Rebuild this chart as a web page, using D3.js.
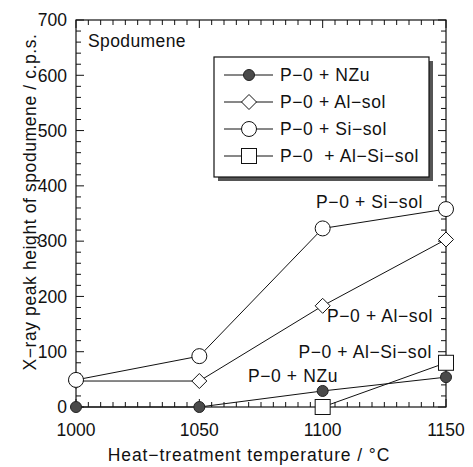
<!DOCTYPE html>
<html>
<head>
<meta charset="utf-8">
<script src="https://cdn.jsdelivr.net/npm/d3@7"></script>
<style>
  html, body { margin: 0; padding: 0; background: #fff; }
  svg text { font-family: "Liberation Sans", Arial, sans-serif; fill: #111; white-space: pre; }
</style>
</head>
<body>
<script>
// data
const temps = [1000, 1050, 1100, 1150];
const nzu = [0, 0, 29, 54];
const alSol = [47, 47, 183, 303];
const siSol = [49, 92, 323, 358];
const alSiTemps = [1100, 1150];
const alSiSol = [0, 80];

const legendLabels = ['P\u22120 + NZu', 'P\u22120 + Al\u2212sol', 'P\u22120 + Si\u2212sol', 'P\u22120  + Al\u2212Si\u2212sol'];
const xTicks = [1000, 1050, 1100, 1150];
const yTicks = [0, 100, 200, 300, 400, 500, 600, 700];

const W = 473, H = 467;
const m = {left: 76, right: 27, top: 20, bottom: 60};
const iw = W - m.left - m.right, ih = H - m.top - m.bottom;

const svg = d3.select('body').append('svg')
    .attr('width', W).attr('height', H);

const x = d3.scaleLinear().domain([1000, 1150]).range([m.left, m.left + iw]);
const y = d3.scaleLinear().domain([0, 700]).range([m.top + ih, m.top]);

// frame
svg.append('rect')
   .attr('x', m.left).attr('y', m.top)
   .attr('width', iw).attr('height', ih)
   .attr('fill', 'none').attr('stroke', '#111').attr('stroke-width', 1.2);

// ticks (all pointing inward)
const xMinor = d3.range(1000, 1151, 5);
const yMinor = d3.range(0, 701, 20);
const tk = svg.append('g').attr('stroke', '#111').attr('stroke-width', 1);
xMinor.forEach(v => {
    const len = v % 50 === 0 ? 8 : 5;
    tk.append('line').attr('x1', x(v)).attr('x2', x(v)).attr('y1', y(0)).attr('y2', y(0) - len);
    tk.append('line').attr('x1', x(v)).attr('x2', x(v)).attr('y1', y(700)).attr('y2', y(700) + len);
});
yMinor.forEach(v => {
    const len = v % 100 === 0 ? 8 : 5;
    tk.append('line').attr('y1', y(v)).attr('y2', y(v)).attr('x1', x(1000)).attr('x2', x(1000) + len);
    tk.append('line').attr('y1', y(v)).attr('y2', y(v)).attr('x1', x(1150)).attr('x2', x(1150) - len);
});

// tick labels
svg.append('g').selectAll('text').data(xTicks).enter().append('text')
   .attr('x', d => x(d)).attr('y', 436)
   .attr('text-anchor', 'middle').attr('font-size', 17.5)
   .text(d => d);
svg.append('g').selectAll('text').data(yTicks).enter().append('text')
   .attr('x', m.left - 9).attr('y', d => y(d)).attr('dy', '0.36em')
   .attr('text-anchor', 'end').attr('font-size', 17.5)
   .text(d => d);

// axis titles
svg.append('text')
   .attr('x', 249).attr('y', 461)
   .attr('text-anchor', 'middle').attr('font-size', 17.5)
   .attr('letter-spacing', 0.9)
   .text('Heat\u2212treatment temperature / \u00b0C');
svg.append('text')
   .attr('transform', 'translate(36,202) rotate(-90)')
   .attr('text-anchor', 'middle').attr('font-size', 17.5)
   .attr('letter-spacing', 0.6)
   .text('X\u2212ray peak height of spodumene / c.p.s.');

svg.append('text')
   .attr('x', 88).attr('y', 47).attr('font-size', 17.5)
   .attr('letter-spacing', 0.4)
   .text('Spodumene');

// lines
const line = d3.line().x(d => x(d[0])).y(d => y(d[1]));
const series = [
    {pts: d3.zip(temps, alSol)},
    {pts: d3.zip(temps, siSol)},
    {pts: d3.zip(alSiTemps, alSiSol)},
    {pts: d3.zip(temps, nzu)}
];
svg.append('g').selectAll('path').data(series).enter().append('path')
   .attr('d', d => line(d.pts))
   .attr('fill', 'none').attr('stroke', '#111').attr('stroke-width', 1);

// marker drawers
function diamond(g, cx, cy) {
    const s = 7.5;
    g.append('path')
     .attr('d', `M${cx},${cy - s}L${cx + s},${cy}L${cx},${cy + s}L${cx - s},${cy}Z`)
     .attr('fill', '#fff').attr('stroke', '#111').attr('stroke-width', 1);
}
function openCircle(g, cx, cy) {
    g.append('circle').attr('cx', cx).attr('cy', cy).attr('r', 7.5)
     .attr('fill', '#fff').attr('stroke', '#111').attr('stroke-width', 1);
}
function square(g, cx, cy) {
    g.append('rect').attr('x', cx - 7.5).attr('y', cy - 7.5).attr('width', 15).attr('height', 15)
     .attr('fill', '#fff').attr('stroke', '#111').attr('stroke-width', 1);
}
function dot(g, cx, cy) {
    g.append('circle').attr('cx', cx).attr('cy', cy).attr('r', 5.5)
     .attr('fill', '#4a4a4a').attr('stroke', '#222').attr('stroke-width', 1);
}

const mk = svg.append('g');
temps.forEach((t, i) => diamond(mk, x(t), y(alSol[i])));
temps.forEach((t, i) => openCircle(mk, x(t), y(siSol[i])));
alSiTemps.forEach((t, i) => square(mk, x(t), y(alSiSol[i])));
temps.forEach((t, i) => dot(mk, x(t), y(nzu[i])));

// in-plot labels
const notes = [
    {text: 'P\u22120 + Si\u2212sol', x: 423, y: 208},
    {text: 'P\u22120 + Al\u2212sol', x: 433, y: 322},
    {text: 'P\u22120 + Al\u2212Si\u2212sol', x: 432, y: 358},
    {text: 'P\u22120 + NZu', x: 338, y: 382}
];
svg.append('g').selectAll('text').data(notes).enter().append('text')
   .attr('x', d => d.x).attr('y', d => d.y)
   .attr('text-anchor', 'end').attr('font-size', 17.5)
   .attr('letter-spacing', 0.6)
   .text(d => d.text);

// legend
const lg = svg.append('g').attr('transform', 'translate(214,57)');
lg.append('rect').attr('x', 4).attr('y', 4).attr('width', 215).attr('height', 120).attr('fill', '#555');
lg.append('rect').attr('width', 215).attr('height', 120)
  .attr('fill', '#fff').attr('stroke', '#111').attr('stroke-width', 1.2);
const drawers = [dot, diamond, openCircle, square];
legendLabels.forEach((lab, i) => {
    const ry = 18 + i * 27;
    lg.append('line').attr('x1', 10).attr('x2', 59).attr('y1', ry).attr('y2', ry)
      .attr('stroke', '#111').attr('stroke-width', 1);
    drawers[i](lg, 35, ry);
    lg.append('text').attr('x', 66).attr('y', ry).attr('dy', '0.36em')
      .attr('font-size', 17.5).attr('letter-spacing', 0.6).text(lab);
});
</script>
</body>
</html>
